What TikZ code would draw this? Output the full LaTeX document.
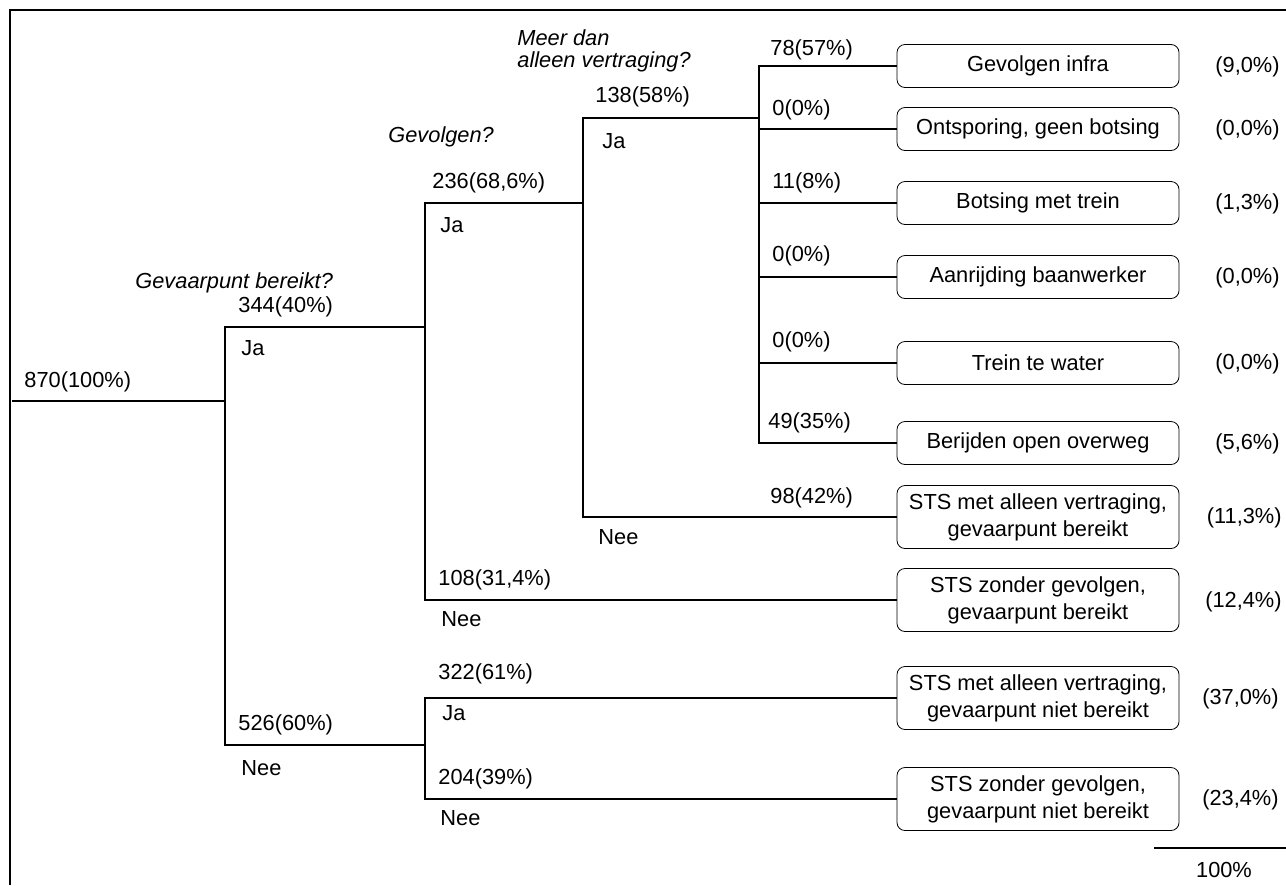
\documentclass[tikz,border=0pt]{standalone}
\usepackage{fontspec}
\setmainfont{Liberation Sans}
\tikzset{
  uitkomst/.style={draw, rounded corners=4pt, minimum width=141pt, minimum height=21.5pt, align=center, inner sep=2pt},
  uitkomsttwee/.style={uitkomst, minimum height=31.5pt},
  getal/.style={anchor=base west, inner sep=0pt},
  vraag/.style={getal, font=\fontsize{10.9}{12}\selectfont\itshape},
  aandeel/.style={anchor=base east, inner sep=0pt},
  tak/.style={line width=0.6pt},
}
\begin{document}
\begin{tikzpicture}[x=0.5pt, y=-0.5pt, every node/.style={font=\fontsize{10.9}{13.5}\selectfont}]
    		\useasboundingbox (0,0) rectangle (1286,885);
    		%kader
    		\draw [line width=1pt] (9.5,885) -- (9.5,9.5) -- (1286,9.5);
    		%%%% SPLITSINGEN
    		\coordinate (start) at (12,401);
    		\coordinate (s1) at (225,401);
    		\coordinate (s2) at (425,327);
    		\coordinate (n1) at (425,745);
    		\coordinate (s3) at (583,203);
    		\coordinate (s4) at (759,118);
  		%%%% UITKOMSTEN
  		\node[uitkomst] (gi) at (1038,66) {Gevolgen infra};
  		\node[uitkomst] (ont) at (1038,129) {Ontsporing, geen botsing};
  		\node[uitkomst] (bot) at (1038,203) {Botsing met trein};
  		\node[uitkomst] (aan) at (1038,277) {Aanrijding baanwerker};
  		\node[uitkomst] (tw) at (1038,363) {Trein te water};
  		\node[uitkomst] (ber) at (1038,443) {Berijden open overweg};
  		\node[uitkomsttwee] (stsa) at (1038,517) {STS met alleen vertraging,\\gevaarpunt bereikt};
  		\node[uitkomsttwee] (stsb) at (1038,600) {STS zonder gevolgen,\\gevaarpunt bereikt};
  		\node[uitkomsttwee] (stsc) at (1038,698) {STS met alleen vertraging,\\gevaarpunt niet bereikt};
  		\node[uitkomsttwee] (stsd) at (1038,799) {STS zonder gevolgen,\\gevaarpunt niet bereikt};
  		%%%% TAKKEN
  		\draw [tak] (start) -- (s1);
  		\draw [tak] (s1) |- (s2);
  		\draw [tak] (s1) |- (n1);
  		\draw [tak] (s2) |- (s3);
  		\draw [tak] (s2) |- (stsb.west);
  		\draw [tak] (n1) |- (stsc.west);
  		\draw [tak] (n1) |- (stsd.west);
  		\draw [tak] (s3) |- (s4);
  		\draw [tak] (s3) |- (stsa.west);
  		\draw [tak] (s4) |- (gi.west);
  		\draw [tak] (s4) |- (ont.west);
  		\draw [tak] (s4) |- (bot.west);
  		\draw [tak] (s4) |- (aan.west);
  		\draw [tak] (s4) |- (tw.west);
  		\draw [tak] (s4) |- (ber.west);
  		%vragen
  		\node[vraag] at (135,288) (q1) {Gevaarpunt bereikt?};
  		\node[vraag] at (388,142) (q2) {Gevolgen?};
  		\node[vraag] at (517,45) (q3) {Meer dan};
  		\node[vraag] at (517,67) (q3b) {alleen vertraging?};
  		%aantallen
  		\node[getal] at (24,387) (a870) {870(100\%)};
  		\node[getal] at (238,312) (a344) {344(40\%)};
  		\node[getal] at (241,355) (j1) {Ja};
  		\node[getal] at (238,730) (a526) {526(60\%)};
  		\node[getal] at (241,775) (n1t) {Nee};
  		\node[getal] at (432,188) (a236) {236(68,6\%)};
  		\node[getal] at (440,232) (j2) {Ja};
  		\node[getal] at (438,585) (a108) {108(31,4\%)};
  		\node[getal] at (441,626) (n2t) {Nee};
  		\node[getal] at (438,679) (a322) {322(61\%)};
  		\node[getal] at (442,720) (j3) {Ja};
  		\node[getal] at (438,784) (a204) {204(39\%)};
  		\node[getal] at (440,825) (n3t) {Nee};
  		\node[getal] at (595,102) (a138) {138(58\%)};
  		\node[getal] at (602,148) (j4) {Ja};
  		\node[getal] at (770,503) (a98) {98(42\%)};
  		\node[getal] at (598,544) (n4t) {Nee};
  		\node[getal] at (770,55) (a78) {78(57\%)};
  		\node[getal] at (772,115) (a0a) {0(0\%)};
  		\node[getal] at (772,188) (a11) {11(8\%)};
  		\node[getal] at (772,261) (a0b) {0(0\%)};
  		\node[getal] at (772,347) (a0c) {0(0\%)};
  		\node[getal] at (768,428) (a49) {49(35\%)};
  		%aandelen
  		\node[aandeel] at (1280,72) (pgi) {(9,0\%)};
  		\node[aandeel] at (1280,135) (pont) {(0,0\%)};
  		\node[aandeel] at (1280,209) (pbot) {(1,3\%)};
  		\node[aandeel] at (1280,283) (paan) {(0,0\%)};
  		\node[aandeel] at (1280,369) (ptw) {(0,0\%)};
  		\node[aandeel] at (1280,449) (pber) {(5,6\%)};
  		\node[aandeel] at (1282,523) (pstsa) {(11,3\%)};
  		\node[aandeel] at (1282,607) (pstsb) {(12,4\%)};
  		\node[aandeel] at (1279,704) (pstsc) {(37,0\%)};
  		\node[aandeel] at (1279,805) (pstsd) {(23,4\%)};
  		%totaal
  		\coordinate (tot) at (1154,848);
  		\coordinate (totr) at (1286,848);
  		\draw [tak] (tot) -- (totr);
  		\node[anchor=base] at (1224,877) (t100) {100\%};
\end{tikzpicture}
\end{document}
